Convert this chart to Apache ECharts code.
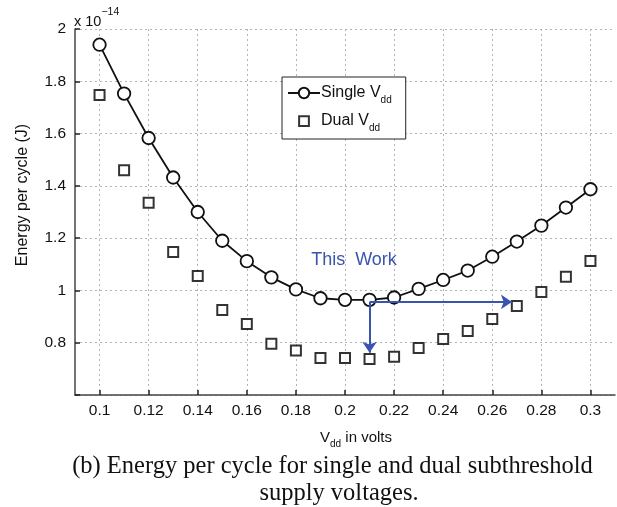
<!DOCTYPE html>
<html>
<head>
<meta charset="utf-8">
<script src="https://cdn.jsdelivr.net/npm/echarts@6/dist/echarts.min.js"></script>
<style>
  html, body { margin: 0; padding: 0; background: #fff; }
  #chart { width: 617px; height: 507px; }
</style>
</head>
<body>
<div id="chart"></div>
<script>
// Supply voltage sweep (V)
const vdd = [0.10, 0.11, 0.12, 0.13, 0.14, 0.15, 0.16, 0.17, 0.18, 0.19, 0.20,
             0.21, 0.22, 0.23, 0.24, 0.25, 0.26, 0.27, 0.28, 0.29, 0.30];
// Energy per cycle, in units of 1e-14 J
const singleEnergy = [1.940, 1.753, 1.583, 1.432, 1.300, 1.190, 1.112, 1.050, 1.004, 0.970, 0.964,
                      0.964, 0.973, 1.006, 1.040, 1.076, 1.129, 1.187, 1.248, 1.317, 1.387];
const dualEnergy   = [1.748, 1.460, 1.335, 1.147, 1.055, 0.925, 0.872, 0.796, 0.770, 0.742, 0.742,
                      0.738, 0.746, 0.780, 0.814, 0.845, 0.891, 0.940, 0.994, 1.052, 1.113];
const xTickValues = [0.10, 0.12, 0.14, 0.16, 0.18, 0.20, 0.22, 0.24, 0.26, 0.28, 0.30];
const xRange = [0.09, 0.31];
const yRange = [0.6, 2.0];
const yStep = 0.2;
// "This Work" arrows: from the optimum single-Vdd point down and across
const arrowOrigin = [0.21, 0.956];
const arrowDownTip = [0.21, 0.762];
const arrowRightTip = [0.268, 0.956];

const SANS = '"Liberation Sans", Arial, Helvetica, sans-serif';
const SERIF = '"Liberation Serif", "Times New Roman", serif';
const BLUE = '#3a55b1';
const INK = '#111';

const chart = echarts.init(document.getElementById('chart'), null, { renderer: 'canvas' });

const gridColor = '#b4b4b4';
const subRich = {
  m: { fontSize: 16, fontFamily: SANS, color: INK, lineHeight: 24, verticalAlign: 'middle' },
  s: { fontSize: 10, fontFamily: SANS, color: INK, lineHeight: 10, verticalAlign: 'bottom' }
};
// small open square centred in the legend icon box
const squareIcon = 'path://M0,0 M1.5,1.5 h9 v9 h-9 Z M12,12';

chart.setOption({
  animation: false,
  backgroundColor: '#fff',
  grid: { left: 75, top: 29, right: 2, bottom: 112, containLabel: false },
  legend: {
    orient: 'vertical',
    left: 282, top: 77,
    padding: [8, 14, 6, 5],
    itemGap: 8,
    itemWidth: 32,
    itemHeight: 13,
    symbolKeepAspect: true,
    backgroundColor: '#fff',
    borderColor: '#222',
    borderWidth: 1,
    borderRadius: 0,
    data: [
      { name: 'Single Vdd' },
      { name: 'Dual Vdd', icon: squareIcon }
    ],
    formatter: function (name) {
      return name === 'Single Vdd' ? '{m|Single V}{s|dd}' : '{m|Dual V}{s|dd}';
    },
    textStyle: { rich: subRich, padding: [0, 0, 0, -4] }
  },
  xAxis: {
    type: 'value',
    min: xRange[0], max: xRange[1],
    axisLine: { show: true, onZero: false, lineStyle: { color: '#444', width: 1.5 } },
    axisTick: { show: true, inside: true, length: 5, customValues: xTickValues,
                lineStyle: { color: '#222', width: 1.5 } },
    axisLabel: {
      customValues: xTickValues,
      margin: 8,
      fontSize: 15.5, fontFamily: SANS, color: INK,
      formatter: v => String(+v.toFixed(2))
    },
    splitLine: { show: true, lineStyle: { color: gridColor, width: 1, type: [2, 3] } },
    name: '{m|V}{s|dd}{m| in volts}',
    nameLocation: 'middle',
    nameGap: 32,
    nameTextStyle: { rich: {
      m: { fontSize: 15, fontFamily: SANS, color: INK, lineHeight: 22, verticalAlign: 'middle' },
      s: { fontSize: 10, fontFamily: SANS, color: INK, lineHeight: 10, verticalAlign: 'bottom' }
    }, padding: [0, 0, 0, 22] }
  },
  yAxis: {
    type: 'value',
    min: yRange[0], max: yRange[1], interval: yStep,
    axisLine: { show: true, onZero: false, lineStyle: { color: '#444', width: 1.5 } },
    axisTick: { show: true, inside: true, length: 5, lineStyle: { color: '#222', width: 1.5 } },
    axisLabel: {
      margin: 9,
      fontSize: 15.5, fontFamily: SANS, color: INK,
      formatter: v => (Math.abs(v - yRange[0]) < 1e-9 ? '' : String(+v.toFixed(1)))
    },
    splitLine: { show: true, lineStyle: { color: gridColor, width: 1, type: [2, 3] } }
  },
  series: [
    {
      name: 'Single Vdd',
      type: 'line',
      data: vdd.map((x, i) => [x, singleEnergy[i]]),
      symbol: 'circle',
      symbolSize: 12.5,
      showAllSymbol: true,
      lineStyle: { color: INK, width: 1.8 },
      itemStyle: { color: '#fff', borderColor: INK, borderWidth: 1.8 },
      z: 3,
      markLine: {
        silent: true,
        symbol: ['none', 'arrow'],
        symbolSize: 11,
        label: { show: false },
        lineStyle: { color: BLUE, width: 2, type: 'solid' },
        emphasis: { disabled: true },
        data: [
          [{ coord: arrowOrigin }, { coord: arrowDownTip }],
          [{ coord: arrowOrigin }, { coord: arrowRightTip }]
        ]
      }
    },
    {
      name: 'Dual Vdd',
      type: 'scatter',
      data: vdd.map((x, i) => [x, dualEnergy[i]]),
      symbol: 'rect',
      symbolSize: 10,
      itemStyle: { color: '#fff', borderColor: '#000', borderWidth: 2 },
      z: 3
    }
  ],
  graphic: [
    { type: 'text', left: 74, top: 7,
      style: { text: '{m|x 10}{p|−14}', rich: {
        m: { fontSize: 14.5, fontFamily: SANS, fill: INK, lineHeight: 22, verticalAlign: 'bottom' },
        p: { fontSize: 10.5, fontFamily: SANS, fill: INK, lineHeight: 22, verticalAlign: 'top' }
      } } },
    { type: 'text', x: 23, y: 195, rotation: Math.PI / 2,
      style: { text: 'Energy per cycle (J)', font: '16px ' + SANS, fill: INK,
               textAlign: 'center', textVerticalAlign: 'middle' } },
    { type: 'text', x: 354, y: 260,
      style: { text: 'This  Work', font: '18px ' + SANS, fill: BLUE,
               textAlign: 'center', textVerticalAlign: 'middle' } },
    { type: 'text', x: 332.5, y: 467,
      style: { text: '(b) Energy per cycle for single and dual subthreshold', font: '24.5px ' + SERIF,
               fill: INK, textAlign: 'center', textVerticalAlign: 'middle' } },
    { type: 'text', x: 339, y: 494,
      style: { text: 'supply voltages.', font: '24.5px ' + SERIF,
               fill: INK, textAlign: 'center', textVerticalAlign: 'middle' } }
  ]
});
</script>
</body>
</html>
